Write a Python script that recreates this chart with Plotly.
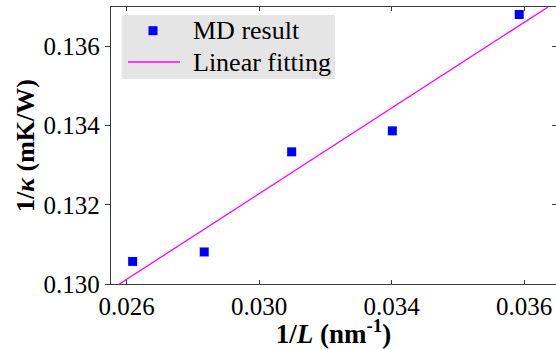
import plotly.graph_objects as go

# Data
inv_L = [0.02618, 0.02834, 0.03098, 0.03402, 0.03785]
inv_kappa = [0.13057, 0.13081, 0.13334, 0.13387, 0.13681]
fit_x = [0.02578, 0.03872]
fit_y = [0.1300, 0.1370]

x_tickvals = [0.026, 0.030, 0.034, 0.038]
x_ticktext = ["0.026", "0.030", "0.034", "0.036"]
y_tickvals = [0.130, 0.132, 0.134, 0.136]
y_ticktext = ["0.130", "0.132", "0.134", "0.136"]

series_names = ["MD result", "Linear fitting"]

FONT = "Liberation Serif"
AX = "#3c3c3c"
BLUE = "#0000ff"
MAGENTA = "#ff00ff"

fig = go.Figure()
fig.add_trace(go.Scatter(
    x=inv_L, y=inv_kappa, mode="markers", name=series_names[0],
    marker=dict(symbol="square", size=9, color=BLUE), showlegend=False,
))
fig.add_trace(go.Scatter(
    x=fit_x, y=fit_y, mode="lines", name=series_names[1],
    line=dict(color=MAGENTA, width=1.3), showlegend=False,
))
# invisible trace to carry right-side ticks
fig.add_trace(go.Scatter(x=fit_x, y=fit_y, yaxis="y2", mode="lines",
                         line=dict(width=0), showlegend=False, hoverinfo="skip"))

# legend drawn as shapes + text (paper coords of plot area)
shapes = [
    dict(type="rect", xref="paper", yref="paper", x0=0.024, x1=0.5034, y0=0.740, y1=0.971,
         fillcolor="#e5e5e5", line=dict(width=0), layer="above"),
    dict(type="rect", xref="paper", yref="paper", x0=0.0843, x1=0.1045, y0=0.8982, y1=0.9307,
         fillcolor=BLUE, line=dict(width=0), layer="above"),
    dict(type="line", xref="paper", yref="paper", x0=0.0382, x1=0.1551, y0=0.8014, y1=0.8014,
         line=dict(color=MAGENTA, width=1.3), layer="above"),
]
annotations = [
    dict(text=series_names[0], xref="paper", yref="paper", x=0.1798, y=0.9144,
         xanchor="left", yanchor="middle", showarrow=False,
         font=dict(family=FONT, size=26, color="black")),
    dict(text=series_names[1], xref="paper", yref="paper", x=0.1798, y=0.8014,
         xanchor="left", yanchor="middle", showarrow=False,
         font=dict(family=FONT, size=26, color="black")),
]

fig.update_layout(
    width=556, height=349,
    margin=dict(l=111, r=0, t=7, b=65, autoexpand=False),
    paper_bgcolor="white", plot_bgcolor="white",
    font=dict(family=FONT, size=25, color="black"),
    showlegend=False,
    shapes=shapes, annotations=annotations,
    xaxis=dict(
        range=[0.025526, 0.03896], automargin=False,
        tickvals=x_tickvals, ticktext=x_ticktext,
        ticks="inside", ticklen=4, tickwidth=1.2, tickcolor=AX,
        showline=True, linecolor=AX, linewidth=1.4, mirror="ticks",
        showgrid=False, zeroline=False,
        tickfont=dict(family=FONT, size=25),
        title=dict(text="<b>1/<i>L</i> (nm<sup>-1</sup>)</b>",
                   font=dict(family=FONT, size=27), standoff=3),
    ),
    yaxis=dict(
        range=[0.130, 0.137], automargin=False,
        tickvals=y_tickvals, ticktext=y_ticktext,
        ticks="outside", ticklen=5, tickwidth=1.2, tickcolor=AX,
        showline=True, linecolor=AX, linewidth=1.4, mirror=False,
        showgrid=False, zeroline=False,
        tickfont=dict(family=FONT, size=25),
        title=dict(text="<b>1/<i>κ</i> (mK/W)</b>",
                   font=dict(family=FONT, size=26), standoff=1),
    ),
    yaxis2=dict(
        overlaying="y", side="right", matches="y", automargin=False,
        tickvals=y_tickvals, showticklabels=False,
        ticks="inside", ticklen=4, tickwidth=1.2, tickcolor=AX,
        showline=False, showgrid=False, zeroline=False,
    ),
)

fig.write_html(
    "out.html",
    config={"displayModeBar": False},
    post_script="document.body.style.margin='0px';document.body.style.overflow='hidden';",
)
